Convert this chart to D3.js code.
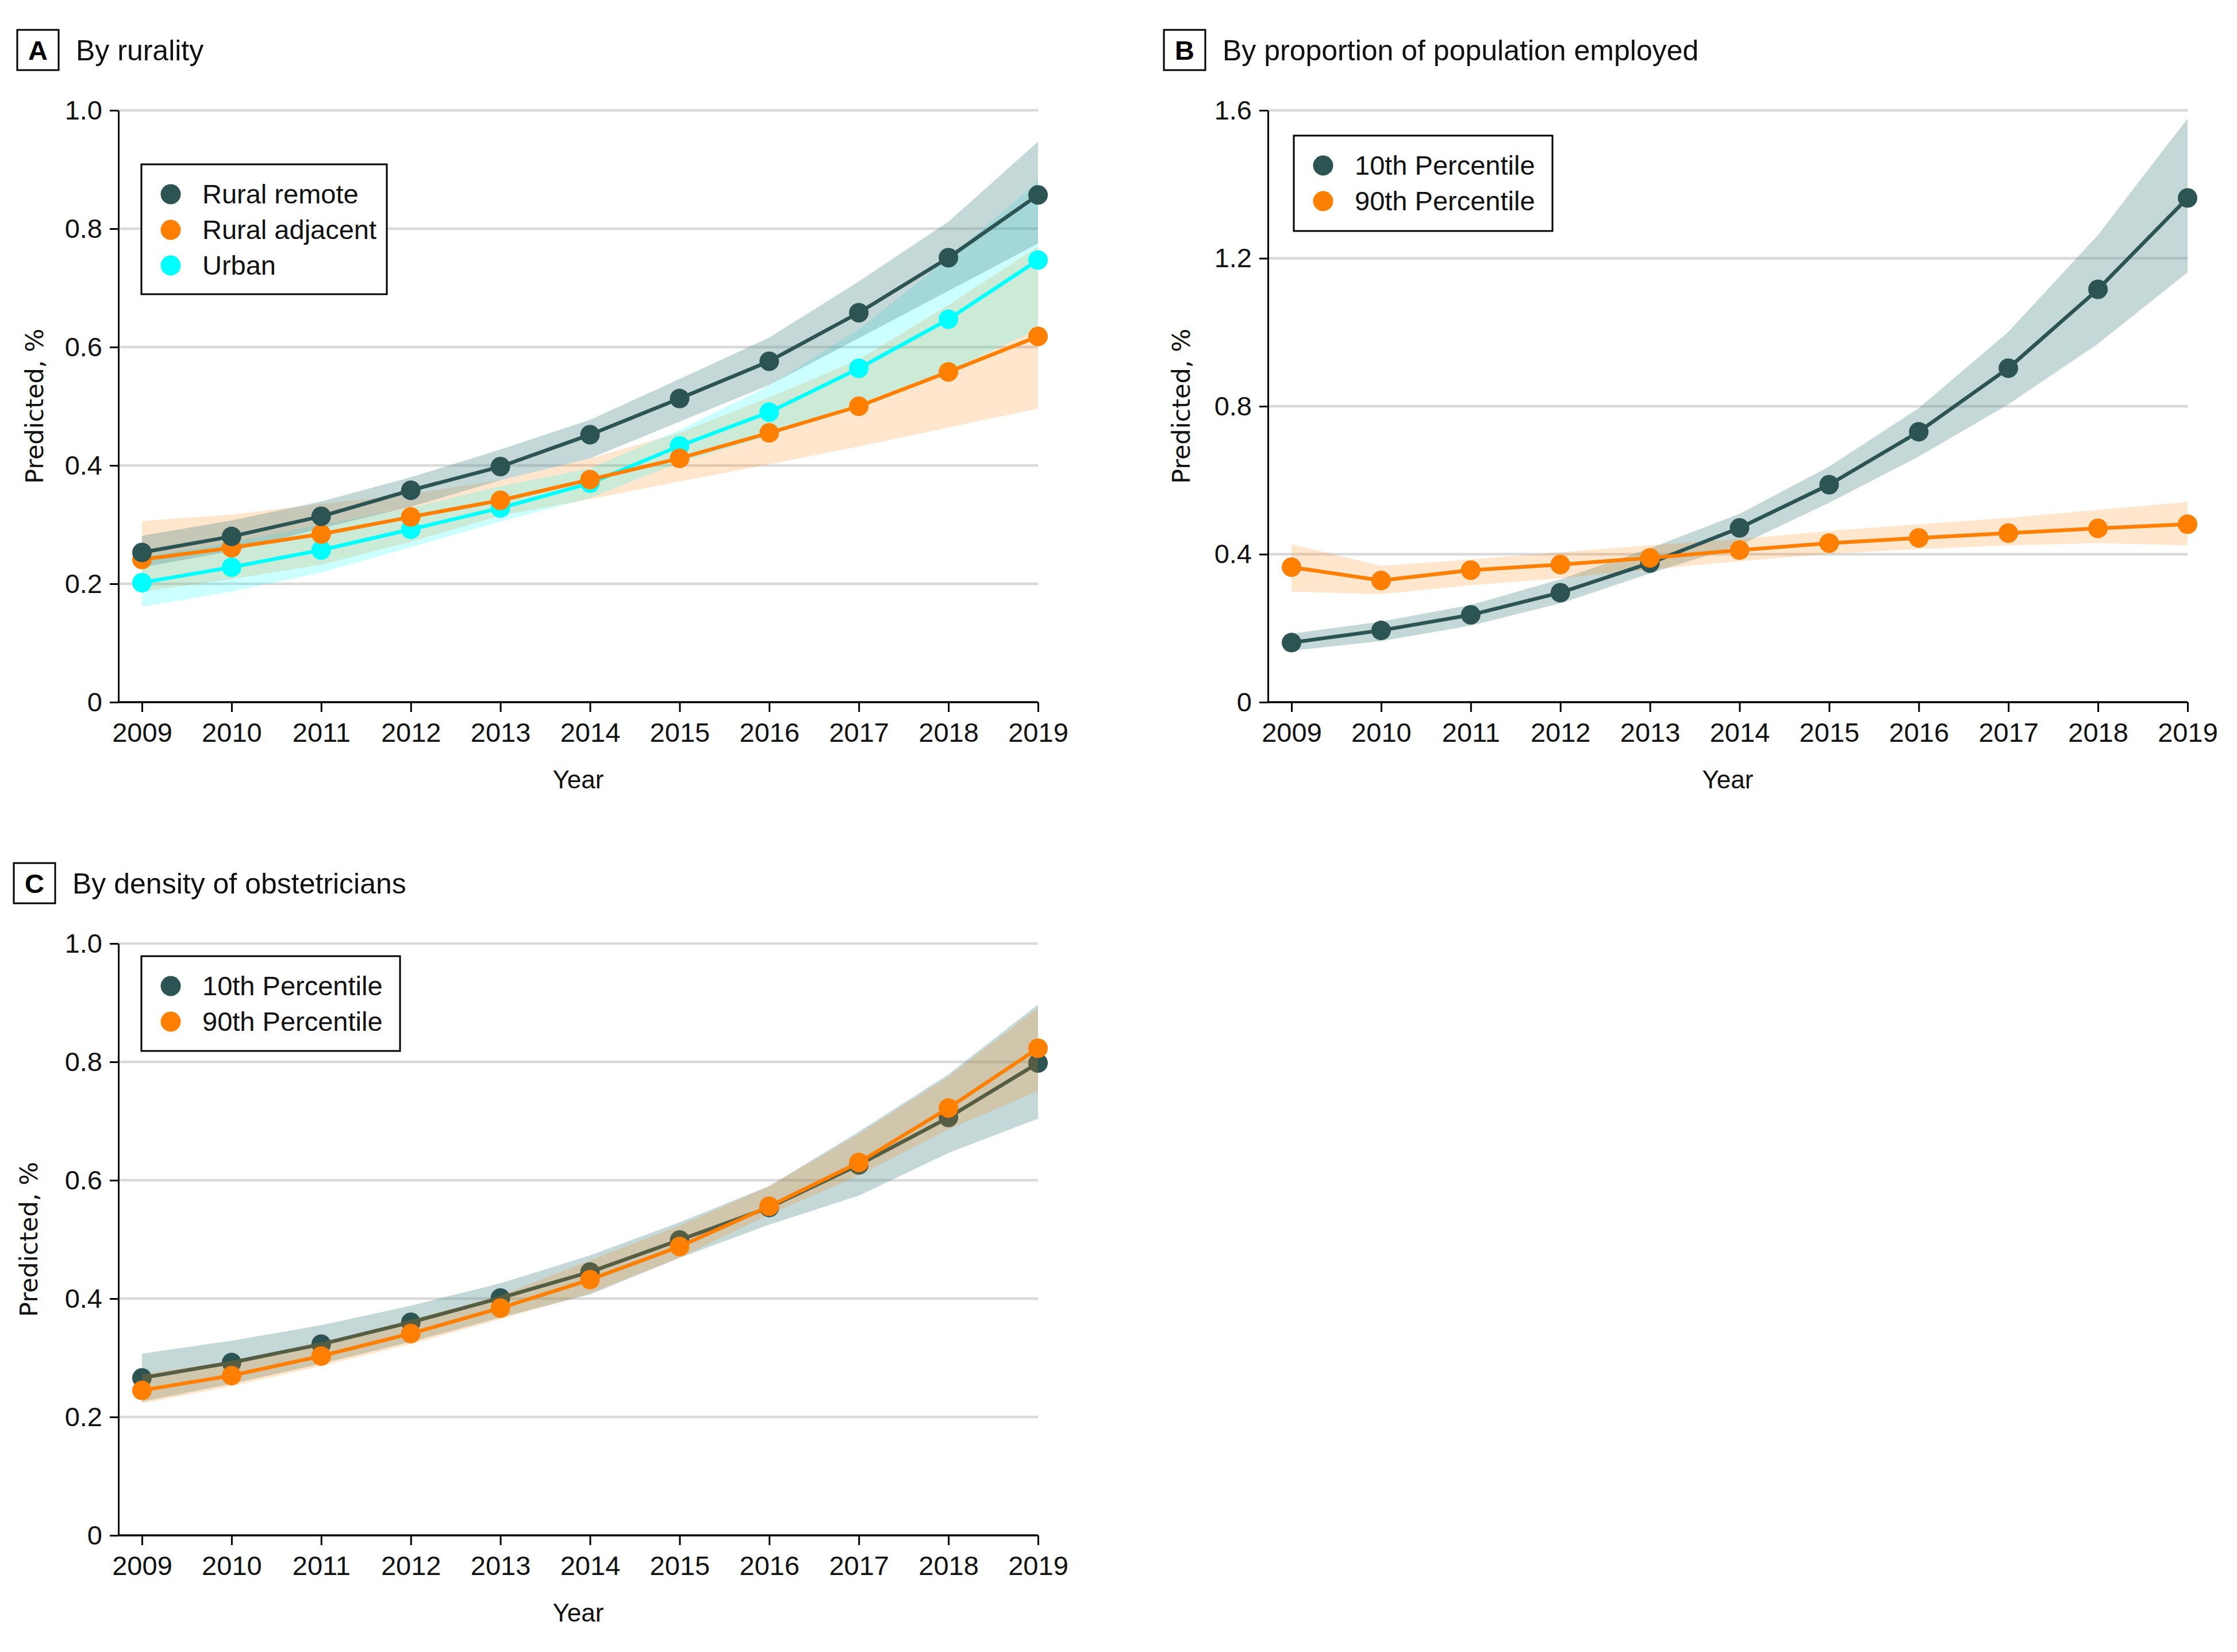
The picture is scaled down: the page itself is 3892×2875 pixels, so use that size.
<!DOCTYPE html>
<html><head><meta charset="utf-8">
<script src="https://cdn.jsdelivr.net/npm/d3@7"></script>
<style>html,body{margin:0;padding:0;background:#fff}svg{display:block}</style>
</head><body><svg id="chart"></svg>
<script>
// ---------- DATA ----------
const years = [2009, 2010, 2011, 2012, 2013, 2014, 2015, 2016, 2017, 2018, 2019];

// Panel A: by rurality
const ruralRemote     = [0.253, 0.280, 0.314, 0.358, 0.398, 0.452, 0.513, 0.576, 0.658, 0.751, 0.857];
const ruralRemoteLo   = [0.228, 0.255, 0.294, 0.330, 0.375, 0.412, 0.474, 0.536, 0.615, 0.695, 0.775];
const ruralRemoteHi   = [0.281, 0.307, 0.339, 0.380, 0.427, 0.477, 0.546, 0.616, 0.711, 0.812, 0.947];
const ruralAdjacent   = [0.241, 0.261, 0.284, 0.313, 0.341, 0.376, 0.412, 0.455, 0.500, 0.558, 0.618];
const ruralAdjacentLo = [0.187, 0.208, 0.232, 0.271, 0.315, 0.343, 0.373, 0.402, 0.432, 0.464, 0.496];
const ruralAdjacentHi = [0.306, 0.317, 0.335, 0.352, 0.375, 0.412, 0.455, 0.515, 0.579, 0.671, 0.770];
const urban           = [0.202, 0.228, 0.257, 0.292, 0.328, 0.370, 0.433, 0.490, 0.564, 0.647, 0.747];
const urbanLo         = [0.161, 0.187, 0.219, 0.262, 0.305, 0.345, 0.405, 0.450, 0.505, 0.560, 0.630];
const urbanHi         = [0.245, 0.270, 0.300, 0.328, 0.365, 0.395, 0.460, 0.535, 0.630, 0.750, 0.880];

// Panel B: by proportion of population employed
const emp10   = [0.161, 0.194, 0.236, 0.296, 0.376, 0.471, 0.588, 0.731, 0.903, 1.116, 1.363];
const emp10Lo = [0.139, 0.165, 0.207, 0.267, 0.348, 0.424, 0.539, 0.664, 0.805, 0.969, 1.162];
const emp10Hi = [0.185, 0.218, 0.263, 0.332, 0.416, 0.509, 0.637, 0.795, 1.001, 1.263, 1.578];
const emp90   = [0.365, 0.329, 0.357, 0.372, 0.390, 0.411, 0.430, 0.444, 0.457, 0.470, 0.481];
const emp90Lo = [0.299, 0.292, 0.316, 0.335, 0.359, 0.381, 0.401, 0.414, 0.424, 0.430, 0.424];
const emp90Hi = [0.427, 0.368, 0.386, 0.405, 0.424, 0.441, 0.463, 0.481, 0.498, 0.520, 0.541];

// Panel C: by density of obstetricians
const obs10   = [0.266, 0.292, 0.323, 0.360, 0.401, 0.445, 0.499, 0.554, 0.626, 0.706, 0.798];
const obs10Lo = [0.226, 0.256, 0.290, 0.327, 0.368, 0.407, 0.469, 0.525, 0.574, 0.646, 0.704];
const obs10Hi = [0.307, 0.329, 0.355, 0.388, 0.426, 0.473, 0.529, 0.590, 0.682, 0.779, 0.897];
const obs90   = [0.245, 0.270, 0.303, 0.341, 0.384, 0.432, 0.488, 0.556, 0.630, 0.722, 0.823];
const obs90Lo = [0.223, 0.252, 0.286, 0.323, 0.365, 0.409, 0.469, 0.542, 0.608, 0.686, 0.751];
const obs90Hi = [0.272, 0.295, 0.326, 0.364, 0.405, 0.465, 0.523, 0.590, 0.678, 0.775, 0.891];

const yTicksA = [0, 0.2, 0.4, 0.6, 0.8, 1.0];
const yTicksB = [0, 0.4, 0.8, 1.2, 1.6];
const yTicksC = [0, 0.2, 0.4, 0.6, 0.8, 1.0];

const panelTitles = ["By rurality", "By proportion of population employed", "By density of obstetricians"];
const panelLetters = ["A", "B", "C"];
const labelsA = ["Rural remote", "Rural adjacent", "Urban"];
const labelsPct = ["10th Percentile", "90th Percentile"];
const xTitle = "Year";
const yTitle = "Predicted, %";

// ---------- STYLE ----------
const W = 3892, H = 2875;
const FONT = "'Liberation Sans', Arial, sans-serif";
const COL = { dark: "#2b5453", orange: "#ff8000", cyan: "#00ffff" };
const BAND = { dark: { fill: "#5e9494", op: 0.36 }, orange: { fill: "#ff8000", op: 0.2 }, cyan: { fill: "#00ffff", op: 0.2 } };
const fmt = d => d === 0 ? "0" : d.toFixed(1);

const svg = d3.select("#chart").attr("width", W).attr("height", H);
svg.append("rect").attr("width", W).attr("height", H).attr("fill", "#fff");

function panel(cfg) {
  const g = svg.append("g");
  const axisX = cfg.ox + 206;
  const x = d3.scaleLinear().domain([2009, 2019]).range([cfg.ox + 247, cfg.ox + 1806]);
  const y = d3.scaleLinear().domain([0, cfg.ymax]).range([cfg.oy + 1222, cfg.oy + 192]);

  // letter box + title
  g.append("rect").attr("x", cfg.boxX).attr("y", cfg.oy + 52).attr("width", 72).attr("height", 70)
    .attr("fill", "#fff").attr("stroke", "#000").attr("stroke-width", 3);
  g.append("text").attr("x", cfg.boxX + 36).attr("y", cfg.oy + 104).attr("text-anchor", "middle")
    .attr("font-family", FONT).attr("font-weight", "bold").attr("font-size", 47).text(cfg.letter);
  g.append("text").attr("x", cfg.boxX + 102).attr("y", cfg.oy + 105)
    .attr("font-family", FONT).attr("font-size", 50).attr("fill", "#111").text(cfg.title);

  // gridlines
  g.append("g").selectAll("line").data(cfg.yTicks.filter(d => d > 0)).join("line")
    .attr("x1", axisX).attr("x2", x(2019)).attr("y1", d => y(d)).attr("y2", d => y(d))
    .attr("stroke", "#d9d9d9").attr("stroke-width", 4.5);

  // layers
  const area = d3.area().x((d, i) => x(years[i])).y0(d => y(d[0])).y1(d => y(d[1]));
  const line = d3.line().x((d, i) => x(years[i])).y(d => y(d));
  cfg.order.forEach(([type, key]) => {
    const s = cfg.series.find(s => s.key === key);
    if (type === "band") {
      g.append("path").datum(s.lo.map((v, i) => [v, s.hi[i]])).attr("d", area)
        .attr("fill", BAND[key].fill).attr("fill-opacity", BAND[key].op);
    } else {
      g.append("path").datum(s.mid).attr("d", line).attr("fill", "none")
        .attr("stroke", COL[key]).attr("stroke-width", 6.5).attr("stroke-linejoin", "round");
      g.append("g").selectAll("circle").data(s.mid).join("circle")
        .attr("cx", (d, i) => x(years[i])).attr("cy", d => y(d)).attr("r", 17).attr("fill", COL[key]);
    }
  });

  // y axis
  const ya = g.append("g").attr("transform", `translate(${axisX},0)`)
    .call(d3.axisLeft(y).tickValues(cfg.yTicks).tickFormat(fmt).tickSize(15).tickPadding(13).tickSizeOuter(0));
  ya.select(".domain").attr("stroke", "#000").attr("stroke-width", 3);
  ya.selectAll(".tick line").attr("stroke", "#000").attr("stroke-width", 3);
  ya.selectAll(".tick text").attr("font-family", FONT).attr("font-size", 47).attr("fill", "#111");

  // x axis
  const xa = g.append("g").attr("transform", `translate(0,${y(0)})`)
    .call(d3.axisBottom(x).tickValues(years).tickFormat(d3.format("d")).tickSize(17).tickPadding(19).tickSizeOuter(0));
  xa.select(".domain").remove();
  xa.append("line").attr("x1", axisX).attr("x2", x(2019)).attr("y1", 0).attr("y2", 0)
    .attr("stroke", "#000").attr("stroke-width", 3.5);
  xa.selectAll(".tick line").attr("stroke", "#000").attr("stroke-width", 3);
  xa.selectAll(".tick text").attr("font-family", FONT).attr("font-size", 47).attr("fill", "#111");

  // axis titles
  g.append("text").attr("x", (axisX + x(2019)) / 2).attr("y", y(0) + 150).attr("text-anchor", "middle")
    .attr("font-family", FONT).attr("font-size", 44).attr("fill", "#111").text(xTitle);
  const yc = (y(0) + y(cfg.ymax)) / 2;
  g.append("text").attr("transform", `translate(${cfg.ylabX},${yc}) rotate(-90)`).attr("text-anchor", "middle")
    .attr("dy", "0.35em").attr("font-family", "'DejaVu Sans', sans-serif").attr("font-size", 43).attr("fill", "#111").text(yTitle);

  // legend
  const L = cfg.legend;
  const lg = g.append("g");
  lg.append("rect").attr("x", L.x).attr("y", L.y).attr("width", L.w).attr("height", L.h)
    .attr("fill", "#fff").attr("stroke", "#000").attr("stroke-width", 3);
  cfg.series.forEach((s, i) => {
    const cy = L.y + 52 + i * 62;
    lg.append("circle").attr("cx", L.x + 51).attr("cy", cy).attr("r", 17.5).attr("fill", COL[s.key]);
    lg.append("text").attr("x", L.x + 106).attr("y", cy + 16).attr("font-family", FONT)
      .attr("font-size", 47).attr("fill", "#111").text(s.label);
  });
}

panel({
  ox: 0, oy: 0, boxX: 30, letter: panelLetters[0], title: panelTitles[0], ymax: 1.0, yTicks: yTicksA, ylabX: 60,
  series: [
    { key: "dark", mid: ruralRemote, lo: ruralRemoteLo, hi: ruralRemoteHi, label: labelsA[0] },
    { key: "orange", mid: ruralAdjacent, lo: ruralAdjacentLo, hi: ruralAdjacentHi, label: labelsA[1] },
    { key: "cyan", mid: urban, lo: urbanLo, hi: urbanHi, label: labelsA[2] }
  ],
  order: [["band", "orange"], ["band", "cyan"], ["band", "dark"], ["line", "cyan"], ["line", "orange"], ["line", "dark"]],
  legend: { x: 246, y: 286, w: 427, h: 226 }
});

panel({
  ox: 2000, oy: 0, boxX: 2025, letter: panelLetters[1], title: panelTitles[1], ymax: 1.6, yTicks: yTicksB, ylabX: 2055,
  series: [
    { key: "dark", mid: emp10, lo: emp10Lo, hi: emp10Hi, label: labelsPct[0] },
    { key: "orange", mid: emp90, lo: emp90Lo, hi: emp90Hi, label: labelsPct[1] }
  ],
  order: [["band", "dark"], ["band", "orange"], ["line", "dark"], ["line", "orange"]],
  legend: { x: 2251, y: 236, w: 450, h: 166 }
});

panel({
  ox: 0, oy: 1450, boxX: 24, letter: panelLetters[2], title: panelTitles[2], ymax: 1.0, yTicks: yTicksC, ylabX: 50,
  series: [
    { key: "dark", mid: obs10, lo: obs10Lo, hi: obs10Hi, label: labelsPct[0] },
    { key: "orange", mid: obs90, lo: obs90Lo, hi: obs90Hi, label: labelsPct[1] }
  ],
  order: [["band", "dark"], ["line", "dark"], ["band", "orange"], ["line", "orange"]],
  legend: { x: 246, y: 1664, w: 450, h: 165 }
});
</script>
</body></html>
